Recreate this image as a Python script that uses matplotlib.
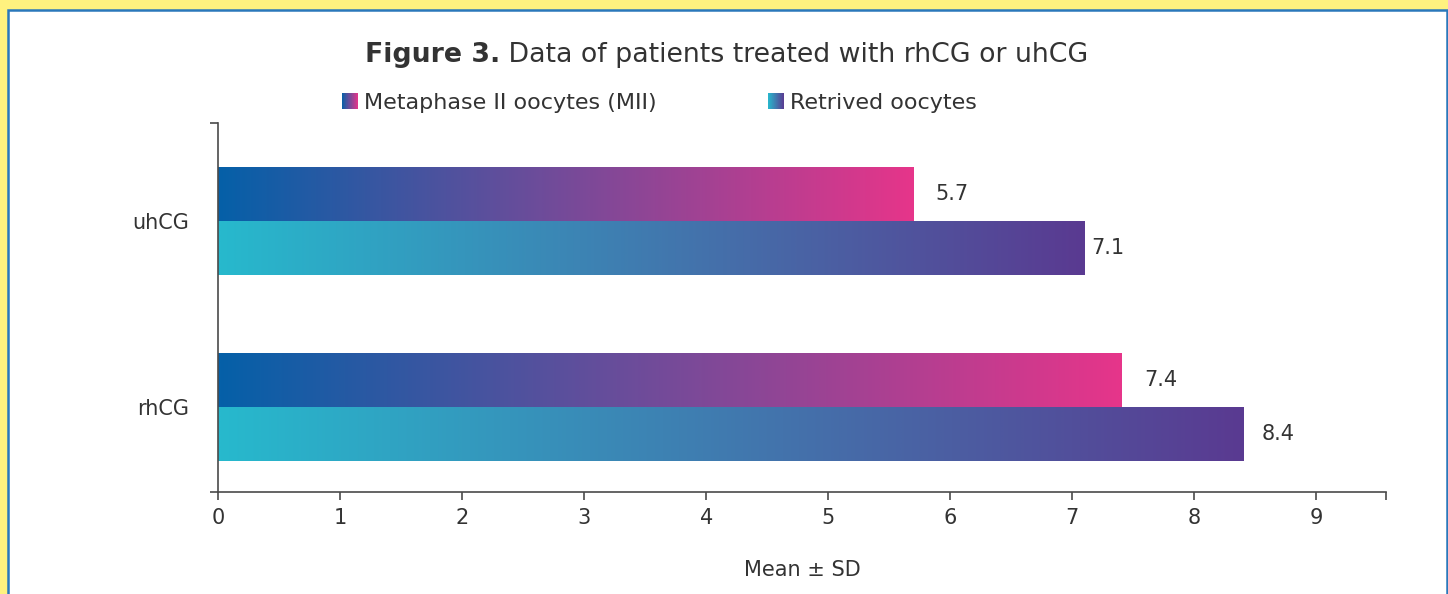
import numpy as np
import matplotlib
matplotlib.use("Agg")
import matplotlib.pyplot as plt
from matplotlib.colors import LinearSegmentedColormap, to_rgb
from matplotlib.patches import Rectangle
from matplotlib.legend_handler import HandlerBase

# ---- data ----
categories = ["rhCG", "uhCG"]
mii_values = [7.4, 5.7]
retrieved_values = [8.4, 7.1]
series_names = ["Metaphase II oocytes (MII)", "Retrived oocytes"]
x_ticks = [0, 1, 2, 3, 4, 5, 6, 7, 8, 9]
title_bold = "Figure 3."
title_rest = " Data of patients treated with rhCG or uhCG"
x_label = "Mean \u00b1 SD"

# ---- style ----
mii_colors = ("#0560a8", "#e6358a")
ret_colors = ("#27b9cd", "#5a3a91")
text_color = "#333333"
spine_color = "#4a4a4a"

plt.rcParams["font.family"] = ["DejaVu Sans"]

W, H = 1448, 594
fig = plt.figure(figsize=(W / 100, H / 100), dpi=100, facecolor="#fff27f")

# white panel with blue border
panel = Rectangle((7.5 / W, -0.05), (1446.5 - 7.5) / W, 1 - 9.5 / H + 0.05,
                  transform=fig.transFigure, facecolor="white",
                  edgecolor="#2a78bb", linewidth=1.8, zorder=-10)
fig.patches.append(panel)

ax = fig.add_axes([218 / W, (H - 492) / H, (1386 - 218) / W, (492 - 123) / H])
ax.set_facecolor("none")
ax.set_zorder(1)

y = np.arange(len(categories))
h = 0.29
bars_mii = ax.barh(y + h / 2, mii_values, height=h, color="none", edgecolor="none")
bars_ret = ax.barh(y - h / 2, retrieved_values, height=h, color="none", edgecolor="none")

cmap_mii = LinearSegmentedColormap.from_list("mii", mii_colors)
cmap_ret = LinearSegmentedColormap.from_list("ret", ret_colors)
grad = np.linspace(0, 1, 512).reshape(1, -1)

for bars, cmap in ((bars_mii, cmap_mii), (bars_ret, cmap_ret)):
    for p in bars:
        x0, y0 = p.get_x(), p.get_y()
        ax.imshow(grad, cmap=cmap, aspect="auto", interpolation="bilinear",
                  extent=[x0, x0 + p.get_width(), y0, y0 + p.get_height()],
                  zorder=2)

# value labels
label_offsets_px = {"mii": [23, 22], "ret": [18, 7]}
for bars, vals, offs in ((bars_mii, mii_values, label_offsets_px["mii"]),
                         (bars_ret, retrieved_values, label_offsets_px["ret"])):
    for p, v, o in zip(bars, vals, offs):
        ax.annotate(f"{v:.1f}", xy=(p.get_width(), p.get_y() + p.get_height() / 2),
                    xytext=(o * 0.72, 0), textcoords="offset points",
                    ha="left", va="center", fontsize=15, color=text_color)

xmax = 9.57
ax.set_xlim(0, xmax)
ax.set_ylim(-0.457, 1.527)

ax.set_xticks(x_ticks)
ax.set_xticks([xmax], minor=True)
ax.set_yticks(y)
ax.set_yticklabels(categories)
ax.set_yticks([-0.457, 1.527], minor=True)

for s in ("top", "right"):
    ax.spines[s].set_visible(False)
for s in ("left", "bottom"):
    ax.spines[s].set_color(spine_color)
    ax.spines[s].set_linewidth(1.2)

ax.tick_params(axis="x", which="both", direction="out", length=6, width=1.2,
               color=spine_color, labelsize=15, labelcolor=text_color, pad=5.5)
ax.tick_params(axis="y", which="major", length=0, labelsize=15,
               labelcolor=text_color, pad=21)
ax.tick_params(axis="y", which="minor", direction="out", length=6, width=1.2,
               color=spine_color)

ax.set_xlabel(x_label, fontsize=15, color=text_color, labelpad=23)

# title
t1 = fig.text(0.5, 1 - 55 / H, title_bold, fontsize=19.3, fontweight="bold",
              color=text_color, ha="left", va="center")
fig.canvas.draw()
r = fig.canvas.get_renderer()
t2 = fig.text(0, 1 - 55 / H, title_rest, fontsize=19.3, color=text_color,
              ha="left", va="center")
w1 = t1.get_window_extent(r).width
w2 = t2.get_window_extent(r).width
x_start = (727 - (w1 + w2) / 2) / W
t1.set_x(x_start)
t2.set_x(x_start + w1 / W)


# gradient legend
class GradientHandler(HandlerBase):
    def __init__(self, colors, n=40):
        super().__init__()
        self.colors = colors
        self.n = n

    def create_artists(self, legend, orig_handle, xdescent, ydescent,
                       width, height, fontsize, trans):
        c0, c1 = np.array(to_rgb(self.colors[0])), np.array(to_rgb(self.colors[1]))
        side = width
        artists = []
        for i in range(self.n):
            f = (i + 0.5) / self.n
            col = c0 + (c1 - c0) * f
            rct = Rectangle((-xdescent + side * i / self.n, -ydescent + (height - side) / 2),
                            side / self.n * 1.05, side, facecolor=col,
                            edgecolor="none", transform=trans)
            artists.append(rct)
        return artists


h1 = Rectangle((0, 0), 1, 1)
h2 = Rectangle((0, 0), 1, 1)
leg = fig.legend([h1, h2], series_names, loc="center left",
                 bbox_to_anchor=(342 / W, 1 - 103 / H), ncol=2, frameon=False,
                 fontsize=16, handlelength=0.72, handletextpad=0.28,
                 columnspacing=5.0, borderpad=0, borderaxespad=0,
                 handler_map={h1: GradientHandler(mii_colors),
                              h2: GradientHandler(ret_colors)})
for t in leg.get_texts():
    t.set_color(text_color)

fig.savefig("out.png", dpi=100, facecolor=fig.get_facecolor())
